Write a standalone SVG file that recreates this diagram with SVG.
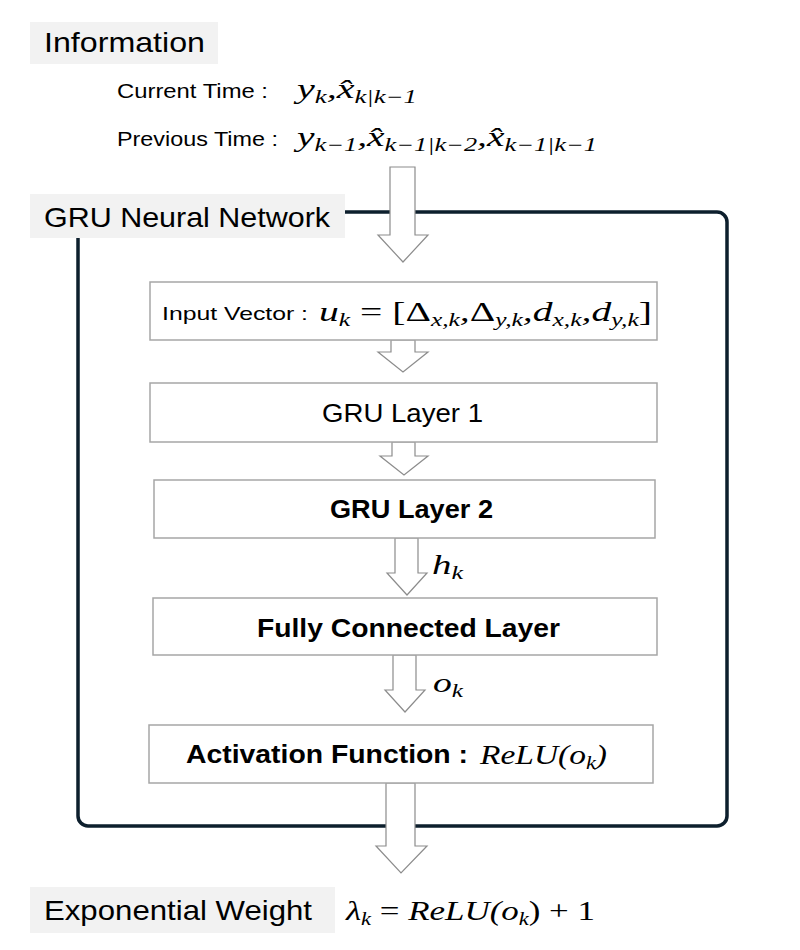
<svg xmlns="http://www.w3.org/2000/svg" width="800" height="950" viewBox="0 0 800 950">
<style>
.lab{fill:#f2f2f2}
.t{font-family:"Liberation Sans","Open Sans",sans-serif;fill:#000}
.m{font-family:"Liberation Serif",serif;font-style:italic;fill:#000}
.box{fill:#fff;stroke:#a6a6a6;stroke-width:1.5}
.arr{fill:#fff;stroke:#8c8c8c;stroke-width:1.2}
</style>
<rect width="800" height="950" fill="#fff"/>
<g id="frame"><rect x="78" y="212" width="649" height="614" rx="10" fill="none" stroke="#0d1f2d" stroke-width="3.5"/></g>
<g id="information">
<rect class="lab" x="30" y="22" width="188" height="42"/>
<text class="t" x="44" y="52" font-size="28" textLength="161" lengthAdjust="spacingAndGlyphs">Information</text>
<text class="t" x="117" y="98" font-size="20" textLength="151" lengthAdjust="spacingAndGlyphs">Current Time :</text>
<text class="m" x="297" y="98" font-size="27" textLength="120" lengthAdjust="spacingAndGlyphs">y<tspan font-size="18" dy="5">k</tspan><tspan dy="-5">,x̂</tspan><tspan font-size="18" dy="5">k|k−1</tspan></text>
<text class="t" x="117" y="146" font-size="20" textLength="161" lengthAdjust="spacingAndGlyphs">Previous Time :</text>
<text class="m" x="297" y="146" font-size="27" textLength="300" lengthAdjust="spacingAndGlyphs">y<tspan font-size="18" dy="5">k−1</tspan><tspan dy="-5">,x̂</tspan><tspan font-size="18" dy="5">k−1|k−2</tspan><tspan dy="-5">,x̂</tspan><tspan font-size="18" dy="5">k−1|k−1</tspan></text>
</g>
<g id="gru-label">
<rect class="lab" x="30" y="194" width="315" height="44"/>
<text class="t" x="44" y="227" font-size="28" textLength="286" lengthAdjust="spacingAndGlyphs">GRU Neural Network</text>
</g>
<g id="connectors">
<polygon class="arr" points="390,167 415,167 415,235 428,235 403,262 378,235 390,235"/>
<polygon class="arr" points="391,340 415,340 415,352 428,352 403,372 378,352 391,352"/>
<polygon class="arr" points="392,442 415,442 415,456 428,456 404,475 380,456 392,456"/>
<polygon class="arr" points="395,538 418,538 418,573 427,573 407,595 387,573 395,573"/>
<polygon class="arr" points="393,655 416,655 416,690 425,690 405,712 385,690 393,690"/>
<polygon class="arr" points="386,783 415,783 415,846 427,846 401,873 376,846 386,846"/>
<text class="m" x="432" y="574" font-size="27" textLength="31" lengthAdjust="spacingAndGlyphs">h<tspan font-size="18" dy="5">k</tspan></text>
<text class="m" x="433" y="692" font-size="27" textLength="30" lengthAdjust="spacingAndGlyphs">o<tspan font-size="18" dy="5">k</tspan></text>
</g>
<g id="input-vector">
<rect class="box" x="150" y="282" width="507" height="58"/>
<text class="t" x="162" y="320" font-size="19" textLength="146" lengthAdjust="spacingAndGlyphs">Input Vector :</text>
<text class="m" x="319" y="321" font-size="28" textLength="333" lengthAdjust="spacingAndGlyphs">u<tspan font-size="18" dy="5">k</tspan><tspan dy="-5" font-style="normal"> = [Δ</tspan><tspan font-size="18" dy="5">x,k</tspan><tspan dy="-5">,</tspan><tspan font-style="normal">Δ</tspan><tspan font-size="18" dy="5">y,k</tspan><tspan dy="-5">,d</tspan><tspan font-size="18" dy="5">x,k</tspan><tspan dy="-5">,d</tspan><tspan font-size="18" dy="5">y,k</tspan><tspan dy="-5" font-style="normal">]</tspan></text>
</g>
<g id="gru1">
<rect class="box" x="150" y="383" width="507" height="59"/>
<text class="t" x="322" y="422" font-size="25" textLength="161" lengthAdjust="spacingAndGlyphs">GRU Layer 1</text>
</g>
<g id="gru2">
<rect class="box" x="154" y="480" width="501" height="58"/>
<text class="t" x="330" y="518" font-size="25" font-weight="bold" textLength="163" lengthAdjust="spacingAndGlyphs">GRU Layer 2</text>
</g>
<g id="fc">
<rect class="box" x="153" y="598" width="504" height="57"/>
<text class="t" x="257" y="637" font-size="25" font-weight="bold" textLength="303" lengthAdjust="spacingAndGlyphs">Fully Connected Layer</text>
</g>
<g id="activation">
<rect class="box" x="149" y="725" width="504" height="58"/>
<text class="t" x="186" y="763" font-size="25" font-weight="bold" textLength="282" lengthAdjust="spacingAndGlyphs">Activation Function :</text>
<text class="m" x="480" y="764" font-size="27" textLength="127" lengthAdjust="spacingAndGlyphs">ReLU(o<tspan font-size="18" dy="5">k</tspan><tspan dy="-5">)</tspan></text>
</g>
<g id="exp-weight">
<rect class="lab" x="30" y="887" width="305" height="46"/>
<text class="t" x="44" y="920" font-size="28" textLength="268" lengthAdjust="spacingAndGlyphs">Exponential Weight</text>
<text class="m" x="346" y="920" font-size="28" textLength="249" lengthAdjust="spacingAndGlyphs">λ<tspan font-size="18" dy="5">k</tspan><tspan dy="-5" font-style="normal"> = </tspan>ReLU(o<tspan font-size="18" dy="5">k</tspan><tspan dy="-5" font-style="normal">) + 1</tspan></text>
</g>
</svg>
